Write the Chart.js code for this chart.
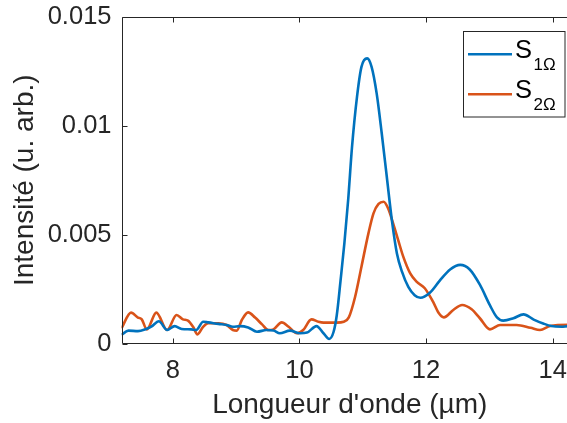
<!DOCTYPE html>
<html><head><meta charset="utf-8">
<script src="https://cdn.jsdelivr.net/npm/chart.js@4/dist/chart.umd.min.js"></script>
<style>
html,body{margin:0;padding:0;overflow:hidden;background:#fff;width:567px;height:423px}
#wrap{position:relative;width:578px;height:423px}
</style></head>
<body><div id="wrap"><canvas id="c"></canvas></div>
<script>
const xTickValues = [8, 10, 12, 14];
const xTickLabels = ['8', '10', '12', '14'];
const yTickValues = [0, 0.005, 0.01, 0.015];
const yTickLabels = ['0', '0.005', '0.01', '0.015'];
const xTitle = "Longueur d'onde (µm)";
const yTitle = 'Intensité (u. arb.)';
const seriesNames = ['S', 'S'];
const seriesSubs = ['1Ω', '2Ω'];

const wavelength1 = [7.19, 7.30, 7.45, 7.58, 7.66, 7.78, 7.91, 8.03, 8.14, 8.29, 8.37, 8.48, 8.56, 8.72, 8.85, 8.95, 9.06, 9.19, 9.33, 9.48, 9.59, 9.69, 9.85, 10.01, 10.12, 10.27, 10.38, 10.47, 10.54, 10.59, 10.65, 10.71, 10.77, 10.83, 10.91, 10.98, 11.07, 11.14, 11.22, 11.30, 11.38, 11.46, 11.54, 11.62, 11.72, 11.82, 11.91, 12.06, 12.22, 12.38, 12.54, 12.69, 12.85, 13.01, 13.12, 13.22, 13.38, 13.54, 13.70, 13.85, 13.98, 14.14, 14.25, 14.40];
const s1Omega = [0.40e-3, 0.59e-3, 0.57e-3, 0.67e-3, 0.77e-3, 1.02e-3, 0.62e-3, 0.80e-3, 0.67e-3, 0.65e-3, 0.62e-3, 1.00e-3, 0.97e-3, 0.90e-3, 0.85e-3, 0.77e-3, 0.80e-3, 0.74e-3, 0.54e-3, 0.62e-3, 0.60e-3, 0.47e-3, 0.59e-3, 0.47e-3, 0.50e-3, 0.80e-3, 0.47e-3, 0.21e-3, 0.54e-3, 1.30e-3, 2.90e-3, 4.60e-3, 6.60e-3, 9.00e-3, 11.34e-3, 12.71e-3, 13.10e-3, 12.71e-3, 11.49e-3, 9.66e-3, 7.66e-3, 5.67e-3, 4.14e-3, 3.30e-3, 2.60e-3, 2.22e-3, 2.10e-3, 2.33e-3, 2.90e-3, 3.40e-3, 3.61e-3, 3.40e-3, 2.70e-3, 1.75e-3, 1.20e-3, 1.05e-3, 1.16e-3, 1.34e-3, 1.10e-3, 0.92e-3, 0.80e-3, 0.77e-3, 0.80e-3, 0.80e-3];

const wavelength2 = [7.19, 7.34, 7.45, 7.51, 7.59, 7.74, 7.91, 8.06, 8.16, 8.24, 8.32, 8.39, 8.48, 8.56, 8.72, 8.85, 8.95, 9.01, 9.09, 9.19, 9.30, 9.41, 9.51, 9.59, 9.72, 9.83, 9.96, 10.06, 10.19, 10.30, 10.38, 10.59, 10.70, 10.78, 10.88, 10.98, 11.09, 11.17, 11.25, 11.33, 11.40, 11.48, 11.56, 11.64, 11.75, 11.85, 11.98, 12.11, 12.20, 12.28, 12.43, 12.57, 12.72, 12.85, 13.01, 13.17, 13.43, 13.65, 13.80, 13.96, 14.25, 14.40];
const s2Omega = [0.70e-3, 1.42e-3, 1.19e-3, 1.11e-3, 0.65e-3, 1.42e-3, 0.62e-3, 1.31e-3, 1.11e-3, 1.05e-3, 0.77e-3, 0.42e-3, 0.77e-3, 0.93e-3, 0.93e-3, 0.85e-3, 0.62e-3, 0.59e-3, 1.08e-3, 1.43e-3, 1.19e-3, 0.88e-3, 0.62e-3, 0.65e-3, 0.97e-3, 0.77e-3, 0.47e-3, 0.62e-3, 1.11e-3, 1.00e-3, 0.96e-3, 0.96e-3, 1.00e-3, 1.20e-3, 2.15e-3, 3.53e-3, 5.06e-3, 5.98e-3, 6.41e-3, 6.51e-3, 6.21e-3, 5.52e-3, 4.75e-3, 3.99e-3, 3.22e-3, 2.84e-3, 2.54e-3, 1.92e-3, 1.40e-3, 1.20e-3, 1.54e-3, 1.77e-3, 1.57e-3, 1.16e-3, 0.65e-3, 0.85e-3, 0.85e-3, 0.72e-3, 0.62e-3, 0.80e-3, 0.86e-3, 0.86e-3];

const colors = ['#0072BD', '#D95319'];
const axisColor = '#262626';
const FAMILY = '"Liberation Sans", Arial, Helvetica, sans-serif';

const toPoints = (xs, ys) => xs.map((x, i) => ({x: x, y: ys[i]}));

const axesPlugin = {
  id: 'matlabAxes',
  afterDraw(chart) {
    const ctx = chart.ctx;
    const a = chart.chartArea;
    const xs = chart.scales.x, ys = chart.scales.y;
    ctx.save();
    ctx.strokeStyle = axisColor;
    ctx.lineWidth = 1;
    const L = Math.round(a.left) + 0.5, T = Math.round(a.top) + 0.5, B = Math.round(a.bottom) - 0.5, R = a.right - 0.5;
    ctx.beginPath();
    ctx.moveTo(R, T); ctx.lineTo(L, T); ctx.lineTo(L, B); ctx.lineTo(R, B); ctx.lineTo(R, T);
    ctx.stroke();
    const tl = 5;
    ctx.beginPath();
    xTickValues.forEach(v => {
      const px = Math.round(xs.getPixelForValue(v)) + 0.5;
      ctx.moveTo(px, B); ctx.lineTo(px, B - tl);
      ctx.moveTo(px, T); ctx.lineTo(px, T + tl);
    });
    yTickValues.forEach(v => {
      const py = Math.round(ys.getPixelForValue(v)) + 0.5;
      ctx.moveTo(L, py); ctx.lineTo(L + tl, py);
      ctx.moveTo(R, py); ctx.lineTo(R - tl, py);
    });
    ctx.stroke();

    // legend
    const bx = 463.5, by = 31.5, bw = 101.5, bh = 85.5;
    ctx.fillStyle = '#fff';
    ctx.fillRect(bx, by, bw, bh);
    ctx.strokeRect(bx, by, bw, bh);
    const rows = [54.3, 94.3];
    chart.data.datasets.forEach((ds, i) => {
      const y = rows[i];
      ctx.strokeStyle = colors[i];
      ctx.lineWidth = 2.6;
      ctx.beginPath(); ctx.moveTo(468, y); ctx.lineTo(512, y); ctx.stroke();
      ctx.fillStyle = '#000';
      ctx.textBaseline = 'alphabetic';
      ctx.textAlign = 'left';
      ctx.font = '25.5px ' + FAMILY;
      ctx.fillText(seriesNames[i], 515, y + 3.8);
      ctx.font = '17px ' + FAMILY;
      ctx.fillText(seriesSubs[i], 533.5, y + 15.8);
    });
    ctx.restore();
  }
};

new Chart(document.getElementById('c'), {
  type: 'line',
  data: {
    datasets: [
      {label: 'S1Ω', data: toPoints(wavelength1, s1Omega), borderColor: colors[0], borderWidth: 2.6, pointRadius: 0, fill: false, cubicInterpolationMode: 'monotone'},
      {label: 'S2Ω', data: toPoints(wavelength2, s2Omega), borderColor: colors[1], borderWidth: 2.6, pointRadius: 0, fill: false, cubicInterpolationMode: 'monotone'}
    ]
  },
  options: {
    responsive: true,
    maintainAspectRatio: false,
    animation: false,
    devicePixelRatio: 1,
    layout: {padding: {left: 0, right: 0, top: 17, bottom: 0}},
    plugins: {legend: {display: false}, tooltip: {enabled: false}},
    scales: {
      x: {
        type: 'linear', min: 7.19, max: 14.4,
        afterBuildTicks: s => { s.ticks = xTickValues.map(v => ({value: v})); },
        afterFit: s => { s.height = 79.5; s.paddingLeft = 0; s.paddingRight = 0; },
        grid: {display: false, drawTicks: false},
        border: {display: false},
        ticks: {padding: 12, autoSkip: false, maxRotation: 0, color: axisColor,
          font: {family: FAMILY, size: 25.5},
          callback: (v, i) => xTickLabels[i]},
        title: {display: true, text: xTitle, color: axisColor, font: {family: FAMILY, size: 28}, padding: {top: 0, bottom: 1}}
      },
      y: {
        type: 'linear', min: 0, max: 0.015,
        afterBuildTicks: s => { s.ticks = yTickValues.map(v => ({value: v})); },
        afterFit: s => { s.width = 121.5; s.paddingTop = 0; s.paddingBottom = 0; },
        grid: {display: false, drawTicks: false},
        border: {display: false},
        ticks: {padding: 10, color: axisColor, font: {family: FAMILY, size: 25.5},
          callback: (v, i) => yTickLabels[i]},
        title: {display: true, text: yTitle, color: axisColor, font: {family: FAMILY, size: 28}, padding: {top: 8.5, bottom: 0}}
      }
    }
  },
  plugins: [axesPlugin]
});
</script>
</body></html>
